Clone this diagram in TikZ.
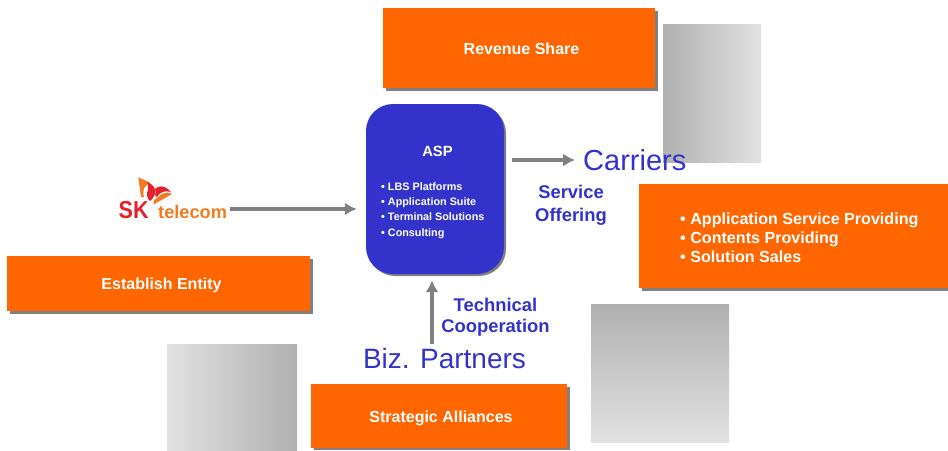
\documentclass[tikz,border=0pt]{standalone}
\usepackage{fontspec}
\setmainfont{Liberation Sans}
\usetikzlibrary{positioning,calc,arrows.meta}
\definecolor{orangebox}{HTML}{FF6600}
\definecolor{bluebox}{HTML}{3333CC}
\definecolor{shadowgray}{HTML}{808080}
\definecolor{graydark}{HTML}{B0B0B0}
\definecolor{graylight}{HTML}{E2E2E2}
\definecolor{skred}{HTML}{E8202A}
\definecolor{skorange}{HTML}{F47A20}
\tikzset{
  boxshadow/.style={fill=shadowgray,draw=none},
  boxlabel/.style={text=white,font=\bfseries\fontsize{16}{19}\selectfont,align=center,inner sep=0pt},
  bluetext/.style={text=bluebox,font=\bfseries\fontsize{18.4}{23}\selectfont,align=center,inner sep=0pt},
  bigtext/.style={text=bluebox,font=\fontsize{28}{32}\selectfont,inner sep=0pt},
  flow/.style={draw=shadowgray,line width=4pt,-{Latex[length=12pt,width=13pt]}},
}
\begin{document}
\begin{tikzpicture}[x=1pt,y=-1pt]
\useasboundingbox (0,0) rectangle (948,450);
% gray panels
\shade[left color=graydark,right color=graylight] (663,24) rectangle (761,162);
\shade[top color=graydark,bottom color=graylight] (591,304) rectangle (729,442);
\shade[left color=graylight,right color=graydark] (167,344) rectangle (297,450);
% Revenue share
\fill[boxshadow] (386,11) rectangle (658,91);
\fill[orangebox] (383,8) rectangle (655,88);
\node[boxlabel] (rev) at (521.5,49) {Revenue Share};
% Service box
\fill[boxshadow] (642,187) rectangle (948,291);
\fill[orangebox] (639,184) rectangle (948,288);
\node[boxlabel,align=left,font=\bfseries\fontsize{16.1}{19}\selectfont,anchor=west] (svc) at (680,237.5) {• Application Service Providing\\• Contents Providing\\• Solution Sales};
% Establish
\fill[boxshadow] (10,259) rectangle (313,314);
\fill[orangebox] (7,256) rectangle (310,311);
\node[boxlabel] (est) at (161.5,285) {Establish Entity};
% Strategic
\fill[boxshadow] (314,387) rectangle (570,450);
\fill[orangebox] (311,384) rectangle (567,448);
\node[boxlabel] (str) at (441,418) {Strategic Alliances};
% ASP
\fill[boxshadow,rounded corners=27pt] (368,106) rectangle (506,276);
\node[fill=bluebox,rounded corners=27pt,minimum width=138pt,minimum height=170pt,inner sep=0pt] (asp) at (435,189) {};
\node[boxlabel,font=\bfseries\fontsize{14.8}{18}\selectfont] (asptitle) at (437.5,151) {ASP};
\node[text=white,font=\bfseries\fontsize{10.8}{15.2}\selectfont,align=left,anchor=west,inner sep=0pt] (asplist) at (381,210.5) {• LBS Platforms\\• Application Suite\\• Terminal Solutions\\• Consulting};
% Labels
\node[bigtext,anchor=west,font=\fontsize{29}{32}\selectfont] (carriers) at (583,160) {Carriers};
\node[bigtext] (biz) at (444.5,358) {Biz. Partners};
\node[bluetext] (offer) at (571,205) {Service\\Offering};
\node[bluetext,font=\bfseries\fontsize{18.4}{21}\selectfont] (tech) at (495.5,317) {Technical\\Cooperation};
% SK logo
\node[inner sep=0pt,text=skred,font=\bfseries\fontsize{24.5}{24}\selectfont,anchor=base west,xscale=.88] (sk) at (118.5,218.3) {SK};
\node[inner sep=0pt,text=skorange,font=\bfseries\fontsize{18.2}{20}\selectfont,anchor=base west] (logo) at (158,218) {telecom};
\fill[skorange] (138.3,177.3) -- (150,182.5) .. controls (144,186) and (142,190) .. (144,197) -- (141,197) -- cycle;
\fill[skred] (147,182.5) .. controls (154,184) and (157,190) .. (154.5,195) .. controls (153,198) and (152,200) .. (150,201) .. controls (147,199) and (146,193) .. (148,190) .. controls (149,187) and (148,185) .. (147,182.5) -- cycle;
\fill[skred] (155,189) .. controls (159,185) and (164,186) .. (168,189) -- (171,192) .. controls (165,190) and (160,192) .. (157,197) -- (155,195) .. controls (156,193) and (156,191) .. (155,189) -- cycle;
\fill[skorange] (172,194) -- (153.5,204.5) .. controls (153,201) and (155,198) .. (158,197) .. controls (162,193) and (166,192) .. (170,193) -- cycle;
% connectors
\coordinate (upfoot) at (432,344);
\coordinate (logoout) at (230,209);
\coordinate (aspout) at (512,160);
\draw[flow,shorten >=9pt] (logoout) -- (logoout -| asp.west);
\draw[flow,shorten >=8pt] (aspout) -- (carriers.west);
\draw[flow,shorten >=6pt] (upfoot) -- (upfoot |- asp.south);
\end{tikzpicture}
\end{document}
